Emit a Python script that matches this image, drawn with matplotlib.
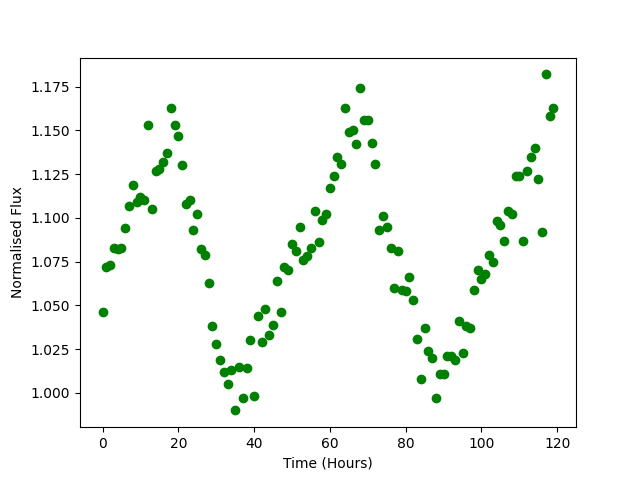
import numpy as np
import matplotlib
matplotlib.use("Agg")
import matplotlib.pyplot as plt

hours = np.arange(120)
flux = [
    1.046, 1.072, 1.073, 1.083, 1.082, 1.083, 1.094, 1.107, 1.119, 1.109,
    1.112, 1.110, 1.153, 1.105, 1.127, 1.128, 1.132, 1.137, 1.163, 1.153,
    1.147, 1.130, 1.108, 1.110, 1.093, 1.102, 1.082, 1.079, 1.063, 1.038,
    1.028, 1.019, 1.012, 1.005, 1.013, 0.990, 1.015, 0.997, 1.014, 1.030,
    0.998, 1.044, 1.029, 1.048, 1.033, 1.039, 1.064, 1.046, 1.072, 1.070,
    1.085, 1.081, 1.095, 1.076, 1.078, 1.083, 1.104, 1.086, 1.099, 1.102,
    1.117, 1.124, 1.135, 1.131, 1.163, 1.149, 1.150, 1.142, 1.174, 1.156,
    1.156, 1.143, 1.131, 1.093, 1.101, 1.095, 1.083, 1.060, 1.081, 1.059,
    1.058, 1.066, 1.053, 1.031, 1.008, 1.037, 1.024, 1.020, 0.997, 1.011,
    1.011, 1.021, 1.021, 1.019, 1.041, 1.023, 1.038, 1.037, 1.059, 1.070,
    1.065, 1.068, 1.079, 1.075, 1.098, 1.096, 1.087, 1.104, 1.102, 1.124,
    1.124, 1.087, 1.127, 1.135, 1.140, 1.122, 1.092, 1.182, 1.158, 1.163,
]

plt.figure(figsize=(6.4, 4.8))
plt.plot(hours, flux, 'o', color='green')
plt.xlabel("Time (Hours)")
plt.ylabel("Normalised Flux")
plt.savefig("out.png", dpi=100)
plt.close()
